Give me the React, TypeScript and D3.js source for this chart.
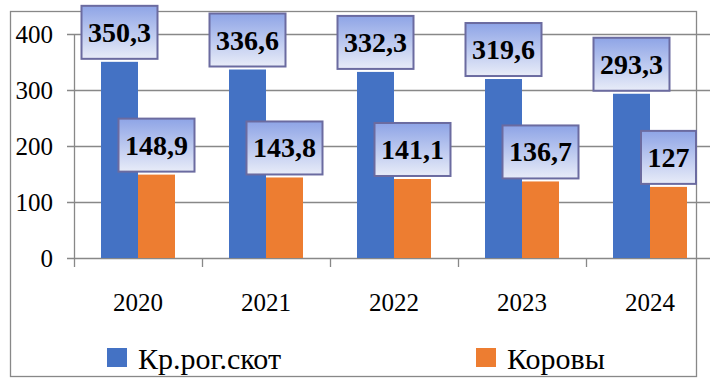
import { useEffect, useRef } from 'react';
import * as d3 from 'd3';

const years = ['2020', '2021', '2022', '2023', '2024'];
const cattle = [350.3, 336.6, 332.3, 319.6, 293.3];
const cows = [148.9, 143.8, 141.1, 136.7, 127];
const seriesNames = ['Кр.рог.скот', 'Коровы'];
const seriesColors = ['#4472C4', '#ED7D31'];
const yTicks = [0, 100, 200, 300, 400];

const W = 710;
const H = 388;
const FONT = "'Liberation Serif', Tinos, 'Times New Roman', FreeSerif";

const fmt = (v: number) => String(v).replace('.', ',');

export default function App() {
  const svgRef = useRef<SVGSVGElement>(null);

  const x = d3.scaleBand<string>().domain(years).range([74, 714]);
  const y = d3.scaleLinear().domain([0, 400]).range([258, 34]);
  const groupW = 74;
  const sub = d3
    .scaleBand<string>()
    .domain(seriesNames)
    .range([(x.bandwidth() - groupW) / 2, (x.bandwidth() + groupW) / 2]);

  const series = [cattle, cows];
  const labelFont = 28;
  const boxH = 53;

  // force the serif face on every text node
  useEffect(() => {
    if (!svgRef.current) return;
    d3.select(svgRef.current)
      .selectAll<SVGTextElement, unknown>('text')
      .each(function () {
        this.style.setProperty('font-family', FONT, 'important');
      });
  });

  return (
    <svg
      ref={svgRef}
      width={W}
      height={H}
      style={{ position: 'absolute', left: 0, top: 0, background: '#fff' }}
    >
      <defs>
        <linearGradient id="lbl" x1="0" y1="0" x2="0" y2="1">
          <stop offset="0" stopColor="#8EA4E6" />
          <stop offset="1" stopColor="#E8ECF8" />
        </linearGradient>
      </defs>

      {/* chart border */}
      <rect x={10.5} y={11.5} width={686} height={365} fill="none" stroke="#888" strokeWidth={1.3} />

      {/* gridlines + y ticks */}
      {yTicks.map((t) => (
        <g key={t}>
          <line x1={67} x2={W} y1={Math.round(y(t)) + 0.5} y2={Math.round(y(t)) + 0.5} stroke="#888" strokeWidth={1.3} />
          <text x={53} y={y(t) + 8.5} textAnchor="end" fontSize={25} fill="#000">
            {t}
          </text>
        </g>
      ))}
      <line x1={74.5} x2={74.5} y1={y(400)} y2={267} stroke="#888" strokeWidth={1.3} />

      {/* category ticks */}
      {years.map((yr) => (
        <line key={'t' + yr} x1={x(yr)! + x.bandwidth() + 0.5} x2={x(yr)! + x.bandwidth() + 0.5} y1={258} y2={267} stroke="#888" strokeWidth={1.3} />
      ))}

      {/* bars */}
      {series.map((vals, si) =>
        vals.map((v, i) => (
          <rect
            key={si + '-' + i}
            x={x(years[i])! + sub(seriesNames[si])!}
            y={y(v)}
            width={sub.bandwidth()}
            height={y(0) - y(v)}
            fill={seriesColors[si]}
          />
        ))
      )}

      {/* value labels */}
      {series.map((vals, si) =>
        vals.map((v, i) => {
          const s = fmt(v);
          const tw = s.split('').reduce((a, c) => a + (c === ',' ? 0.25 : 0.5), 0) * labelFont;
          const bw = tw + 13;
          const cx = x(years[i])! + sub(seriesNames[si])! + sub.bandwidth() / 2;
          const bottom = y(v) - 3;
          return (
            <g key={'l' + si + '-' + i}>
              <rect
                x={cx - bw / 2}
                y={bottom - boxH}
                width={bw}
                height={boxH}
                fill="url(#lbl)"
                stroke="#6B6BA0"
                strokeWidth={2}
              />
              <text
                x={cx}
                y={bottom - boxH / 2 + 9.5}
                textAnchor="middle"
                fontSize={labelFont}
                fontWeight="bold"
                fill="#000"
              >
                {s}
              </text>
            </g>
          );
        })
      )}

      {/* x labels */}
      {years.map((yr) => (
        <text
          key={'x' + yr}
          x={x(yr)! + x.bandwidth() / 2}
          y={311}
          textAnchor="middle"
          fontSize={25}
          fill="#000"
        >
          {yr}
        </text>
      ))}

      {/* legend */}
      {seriesNames.map((n, i) => {
        const lx = i === 0 ? 107 : 476;
        return (
          <g key={'lg' + n}>
            <rect x={lx} y={348} width={20} height={19} fill={seriesColors[i]} />
            <text x={lx + 31} y={369} fontSize={30} fill="#000">
              {n}
            </text>
          </g>
        );
      })}
    </svg>
  );
}
